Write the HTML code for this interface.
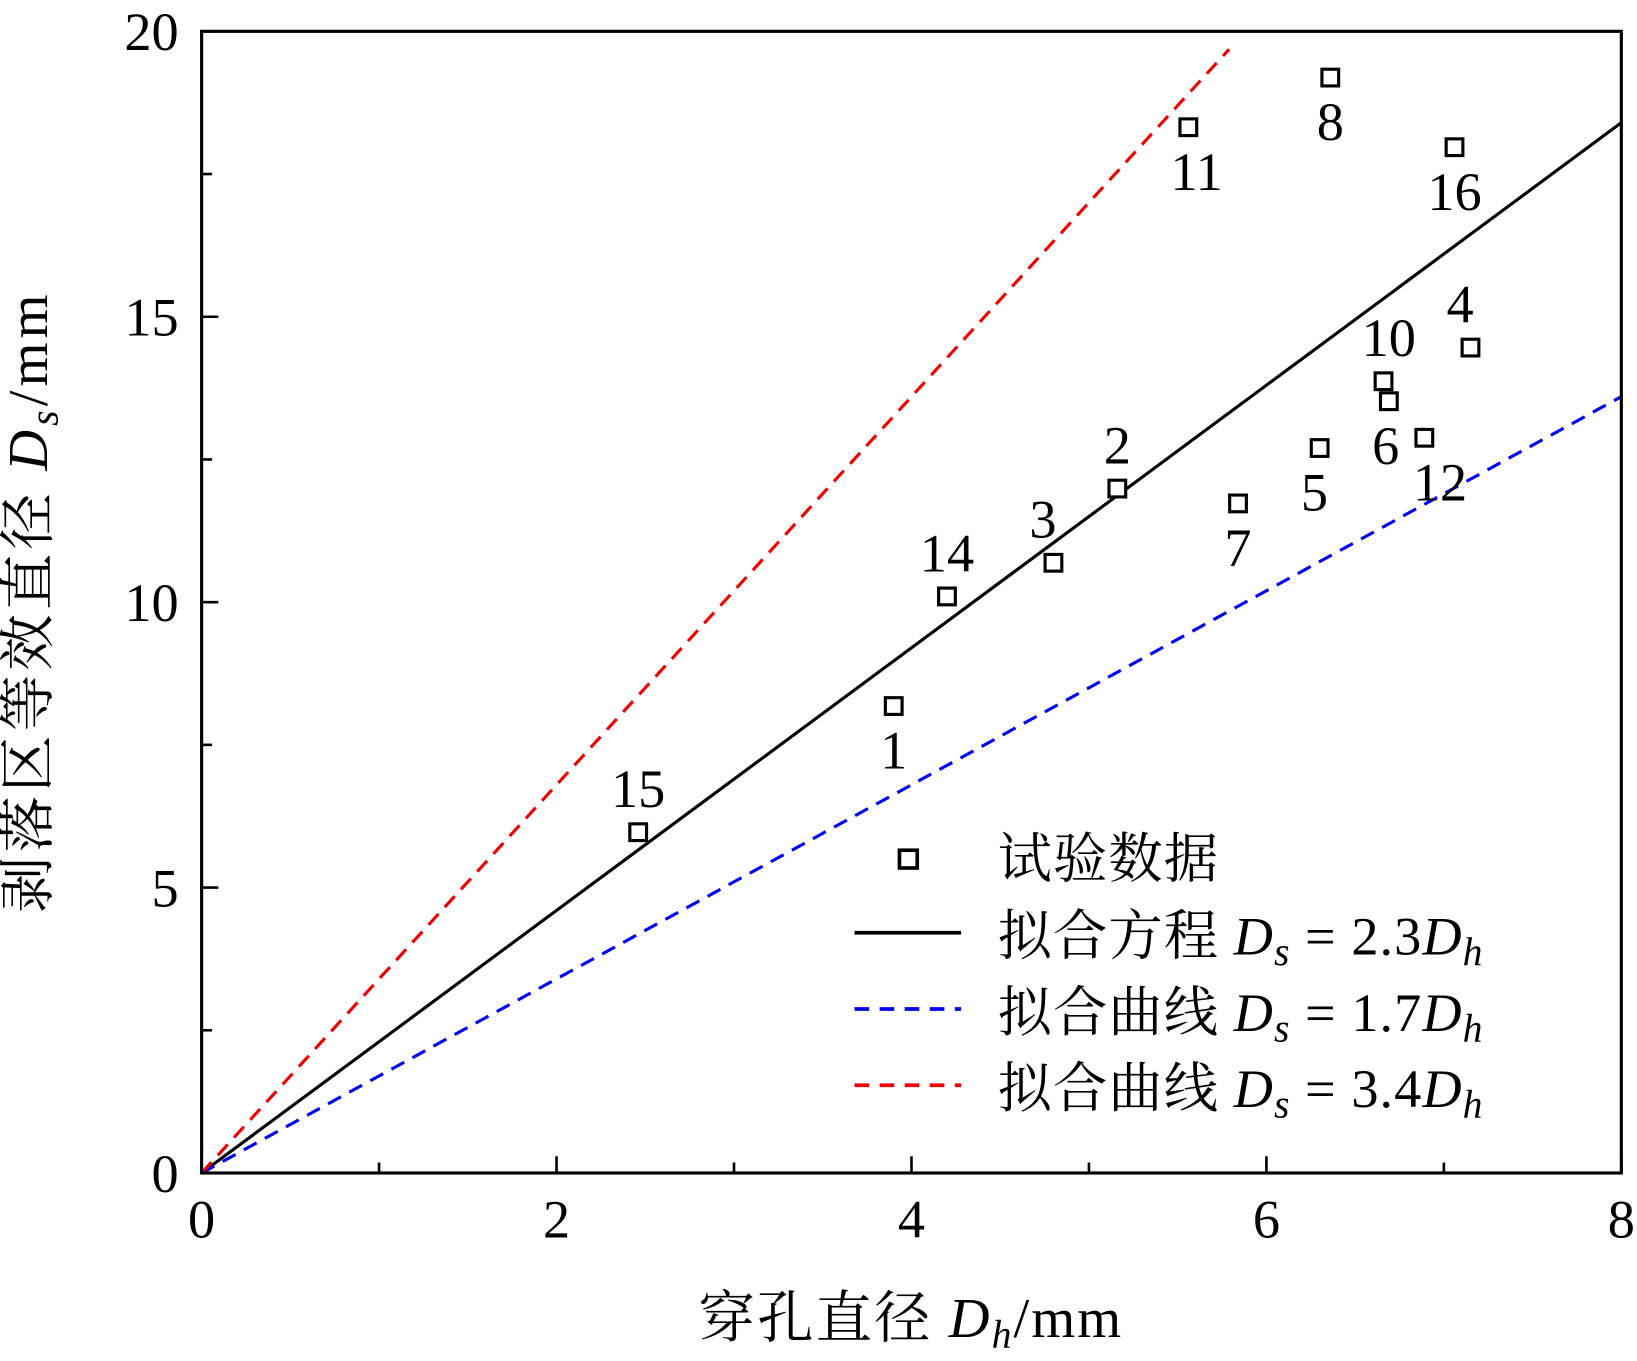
<!DOCTYPE html>
<html><head><meta charset="utf-8"><style>
html,body{margin:0;padding:0;background:#fff;}
svg{display:block;}
text{font-family:"Liberation Serif","Noto Serif CJK SC",serif;fill:#000;}
.cjk{font-family:"Liberation Serif","Noto Serif CJK SC","Noto Sans CJK SC",serif;}
</style></head><body>
<svg id="chart" width="1637" height="1361" viewBox="0 0 1567 1303" preserveAspectRatio="none" xmlns="http://www.w3.org/2000/svg">
<g id="plot"></g>
<rect x="193" y="30" width="1359" height="1093" fill="none" stroke="#000" stroke-width="3"/>
<text x="872" y="1280" font-size="54" text-anchor="middle" class="cjk" letter-spacing="2">穿孔直径 <tspan font-style="italic">D</tspan><tspan font-style="italic" font-size="38" dy="10">h</tspan><tspan dy="-10">/mm</tspan></text>
<text transform="translate(45,576) rotate(-90)" font-size="54" text-anchor="middle" class="cjk" letter-spacing="4">剥落区等效直径 <tspan font-style="italic">D</tspan><tspan font-style="italic" font-size="38" dy="10">s</tspan><tspan dy="-10">/mm</tspan></text>
<g>
<rect x="861" y="814" width="17" height="17" fill="none" stroke="#000" stroke-width="3.5"/>
<text x="955" y="840" font-size="52" class="cjk" letter-spacing="1">试验数据</text>
<line x1="818" y1="893" x2="920" y2="893" stroke="#000" stroke-width="3.5"/>
<text x="955" y="914" font-size="52" class="cjk" letter-spacing="1">拟合方程 <tspan font-style="italic">D</tspan><tspan font-style="italic" font-size="38" dy="10">s</tspan><tspan dy="-10"> = 2.3</tspan><tspan font-style="italic">D</tspan><tspan font-style="italic" font-size="38" dy="10">h</tspan></text>
<line x1="818" y1="966" x2="920" y2="966" stroke="#0000ee" stroke-width="3.5" stroke-dasharray="14,10"/>
<text x="955" y="987" font-size="52" class="cjk" letter-spacing="1">拟合曲线 <tspan font-style="italic">D</tspan><tspan font-style="italic" font-size="38" dy="10">s</tspan><tspan dy="-10"> = 1.7</tspan><tspan font-style="italic">D</tspan><tspan font-style="italic" font-size="38" dy="10">h</tspan></text>
<line x1="818" y1="1039" x2="920" y2="1039" stroke="#ee0000" stroke-width="3.5" stroke-dasharray="14,10"/>
<text x="955" y="1060" font-size="52" class="cjk" letter-spacing="1">拟合曲线 <tspan font-style="italic">D</tspan><tspan font-style="italic" font-size="38" dy="10">s</tspan><tspan dy="-10"> = 3.4</tspan><tspan font-style="italic">D</tspan><tspan font-style="italic" font-size="38" dy="10">h</tspan></text>
</g>
</svg>
<script>
const xTicks = [0, 2, 4, 6, 8];
const yTicks = [0, 5, 10, 15, 20];
const pointIds = ['15','1','14','3','2','7','5','10','6','12','4','16','8','11'];
const pointX = [2.46, 3.90, 4.20, 4.80, 5.16, 5.84, 6.30, 6.66, 6.69, 6.89, 7.15, 7.06, 6.36, 5.56];
const pointY = [5.97, 8.18, 10.10, 10.69, 11.99, 11.73, 12.70, 13.87, 13.52, 12.88, 14.46, 17.97, 19.19, 18.32];
const labelPos = ['above','below','above','above','above','below','below','above','below','below','above','below','below','below'];
const fitSlopes = [2.3, 1.7, 3.4];
const fitXmax = [8, 8, 5.79];
const fitColors = ['#000', '#0000ee', '#ee0000'];

const NS = 'http://www.w3.org/2000/svg';
const X0 = 193, X1 = 1552, Y0 = 1123, Y1 = 30;
const sx = v => X0 + (v / 8) * (X1 - X0);
const sy = v => Y0 - (v / 20) * (Y0 - Y1);
const g = document.getElementById('plot');
function mk(tag, attrs, parent) {
  const e = document.createElementNS(NS, tag);
  for (const k in attrs) e.setAttribute(k, attrs[k]);
  (parent || g).appendChild(e);
  return e;
}
for (let v = 0; v <= 8; v += 1) {
  const major = v % 2 === 0, len = major ? 16 : 10;
  const t = mk('line', {x1: sx(v), x2: sx(v), y1: Y0, y2: Y0 - len, stroke: '#000', 'stroke-width': 2.5});
  
  
}
for (let v = 0; v <= 20; v += 2.5) {
  const major = v % 5 === 0, len = major ? 16 : 10;
  const t = mk('line', {x1: X0, x2: X0 + len, y1: sy(v), y2: sy(v), stroke: '#000', 'stroke-width': 2.5});
  
  
}
xTicks.forEach(v => {
  const t = mk('text', {x: sx(v), y: Y0 + 62, 'font-size': 52, 'text-anchor': 'middle'});
  t.textContent = v;
  
  
});
yTicks.forEach(v => {
  const t = mk('text', {x: X0 - 22, y: sy(v) + 18, 'font-size': 52, 'text-anchor': 'end'});
  t.textContent = v;
  
  
});
const fitNames = ['fit-line-2-3', 'fit-line-1-7', 'fit-line-3-4'];
fitSlopes.forEach((k, i) => {
  const attrs = {x1: sx(0), y1: sy(0), x2: sx(fitXmax[i]), y2: sy(k * fitXmax[i]), stroke: fitColors[i], 'stroke-width': 3};
  if (i > 0) attrs['stroke-dasharray'] = '14,9';
  const l = mk('line', attrs);
  
  
});
pointX.forEach((x, i) => {
  const cx = sx(x), cy = sy(pointY[i]);
  const r = mk('rect', {x: cx - 8, y: cy - 8, width: 16, height: 16, fill: '#fff', stroke: '#000', 'stroke-width': 3});
  
  
  const ly = labelPos[i] === 'above' ? cy - 24 : cy + 60;
  let lx = cx;
  const id = pointIds[i];
  if (id === '3') lx -= 10;
  if (id === '5') lx -= 5;
  if (id === '10') lx += 5;
  if (id === '6') lx -= 3;
  if (id === '12') lx += 15;
  if (id === '4') lx -= 10;
  if (id === '11') lx += 8;
  const t = mk('text', {x: lx, y: ly, 'font-size': 52, 'text-anchor': 'middle'});
  t.textContent = id;
  
  
});
</script>
</body></html>
